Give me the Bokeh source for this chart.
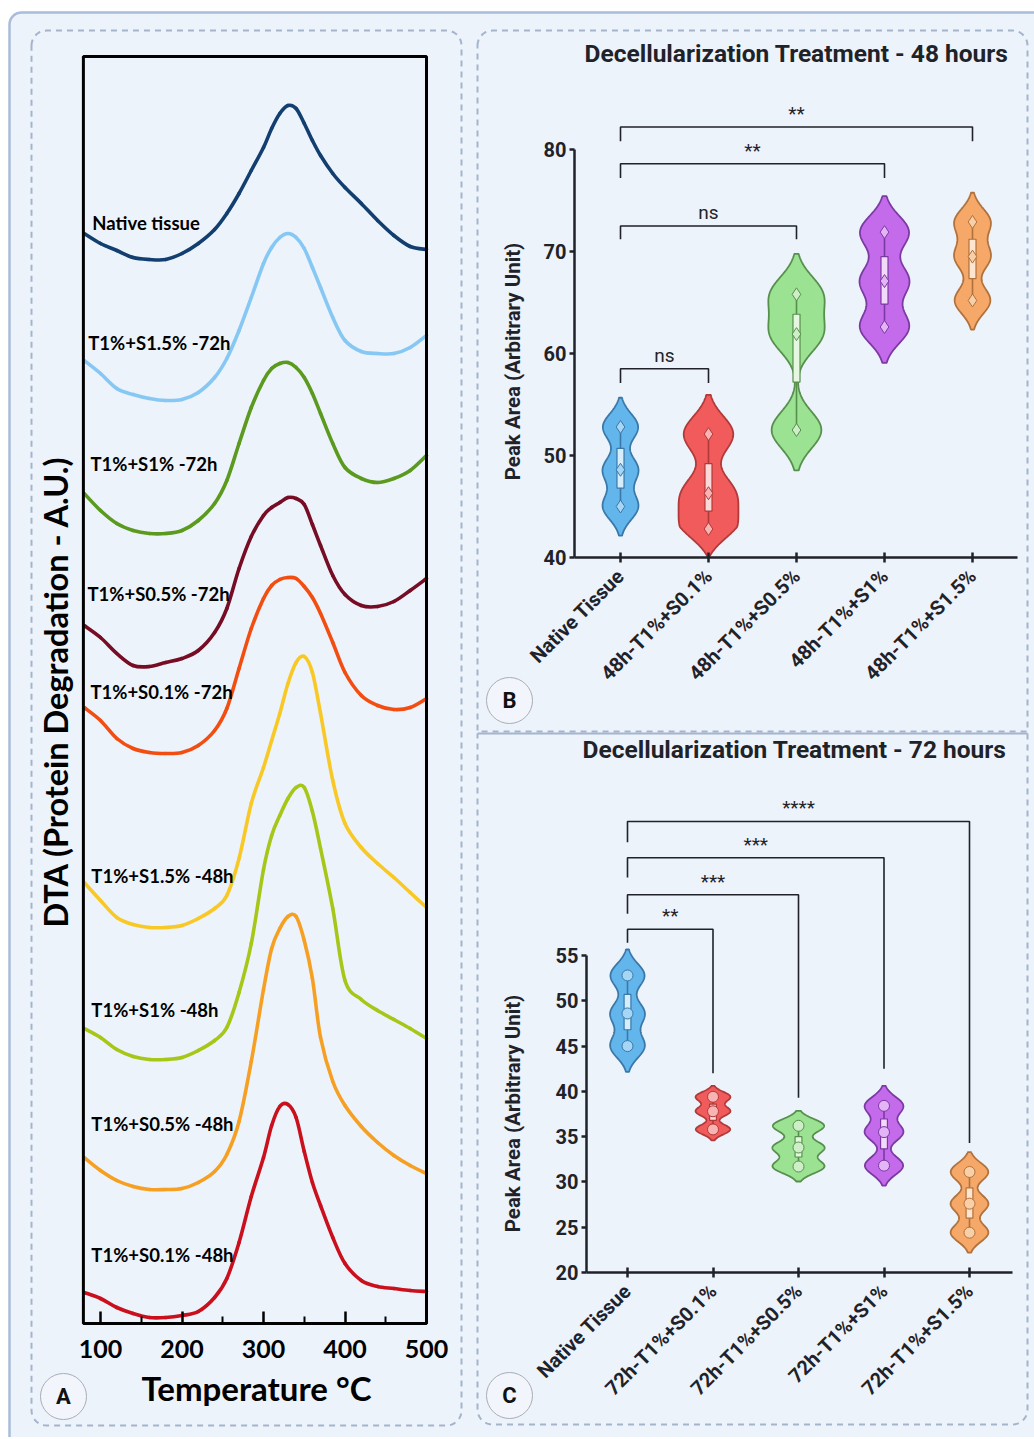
import numpy as np
from bokeh.plotting import figure
from bokeh.models import Range1d, FixedTicker, LinearAxis
from bokeh.embed import file_html
from bokeh.resources import INLINE
from bokeh.core.properties import value

BG = "#edf3fb"
INK = "#1f2329"
W, H = 1034, 1437

# ---------------- Panel A : DTA curves (arbitrary units, stacked) ----------------
temp_c = [80, 100, 120, 140, 160, 180, 200, 220, 240, 255, 270, 285, 300, 310,
          320, 330, 340, 350, 360, 370, 385, 400, 420, 440, 460, 480, 500]

dta_native = [109.0, 108.0, 107.3, 106.6, 106.4, 106.4, 107.0, 108.0, 109.4, 111.0, 113.0, 115.3, 117.6, 119.5,
              121.0, 121.8, 121.5, 120.0, 118.3, 116.8, 115.0, 113.6, 112.0, 110.3, 108.8, 107.7, 107.4]
dta_s15_72 = [96.3, 95.0, 93.5, 92.9, 92.5, 92.3, 92.4, 93.1, 94.6, 96.5, 99.3, 102.6, 106.0, 107.6,
              108.6, 109.0, 108.6, 107.5, 105.6, 103.6, 100.6, 98.3, 97.2, 97.0, 97.0, 97.6, 98.8]
dta_s1_72 = [83.0, 81.3, 80.0, 79.3, 79.0, 79.0, 79.3, 80.3, 82.0, 84.3, 88.0, 91.6, 94.3, 95.5,
             96.0, 96.1, 95.6, 94.6, 93.0, 91.0, 88.0, 85.6, 84.5, 84.1, 84.5, 85.3, 86.8]
dta_s05_72 = [69.8, 68.6, 67.0, 65.8, 65.7, 66.1, 66.5, 67.3, 69.1, 71.5, 75.5, 78.7, 80.8, 81.6,
              82.1, 82.6, 82.5, 81.9, 79.9, 77.8, 74.8, 72.9, 71.8, 71.7, 72.2, 73.3, 74.5]
dta_s01_72 = [61.6, 60.3, 58.5, 57.5, 57.1, 57.0, 57.1, 57.8, 59.3, 61.5, 65.5, 69.5, 72.5, 73.8,
              74.4, 74.6, 74.5, 73.7, 72.6, 71.0, 68.1, 65.1, 62.8, 61.8, 61.4, 61.6, 62.5]
dta_s15_48 = [44.1, 42.3, 40.6, 39.9, 39.6, 39.6, 39.8, 40.5, 41.5, 42.8, 46.5, 52.0, 55.6, 58.3,
              61.0, 64.0, 66.1, 66.7, 65.1, 61.0, 54.3, 50.0, 47.6, 46.0, 44.6, 43.1, 41.6]
dta_s1_48 = [29.5, 28.6, 27.4, 26.7, 26.4, 26.4, 26.6, 27.3, 28.3, 29.6, 33.1, 38.0, 45.4, 48.8,
             50.8, 52.5, 53.6, 53.6, 51.2, 47.5, 41.5, 34.3, 32.4, 31.3, 30.4, 29.5, 28.5]
dta_s05_48 = [16.6, 15.3, 14.3, 13.7, 13.4, 13.4, 13.5, 14.1, 15.2, 16.9, 20.2, 26.2, 33.4, 37.5,
              39.5, 40.7, 40.7, 38.3, 34.5, 28.6, 24.2, 21.8, 19.7, 18.1, 16.8, 15.8, 15.0]
dta_s01_48 = [3.1, 2.5, 1.6, 1.0, 0.6, 0.6, 0.8, 1.2, 2.6, 4.5, 8.1, 12.7, 16.6, 19.8,
              21.7, 21.9, 20.6, 17.2, 14.1, 11.8, 8.6, 6.0, 4.3, 3.7, 3.5, 3.3, 3.2]

dta_curves = [dta_native, dta_s15_72, dta_s1_72, dta_s05_72, dta_s01_72,
              dta_s15_48, dta_s1_48, dta_s05_48, dta_s01_48]
dta_names = ["Native tissue", "T1%+S1.5% -72h", "T1%+S1% -72h", "T1%+S0.5% -72h", "T1%+S0.1% -72h",
             "T1%+S1.5% -48h", "T1%+S1% -48h", "T1%+S0.5% -48h", "T1%+S0.1% -48h"]
dta_colors = ["#123f70", "#86c8f3", "#5b9a1f", "#760d25", "#f24e12",
              "#f8c926", "#a6c618", "#f6a023", "#c9101c"]
dta_label_x = [90, 85, 87.6, 84, 87.6, 88.8, 88.8, 88.8, 88.8]
dta_label_y = [110.1, 98.1, 86.0, 73.0, 63.2, 44.8, 31.4, 20.0, 6.9]
temp_ticks = [100, 200, 300, 400, 500]
temp_minor = [150, 250, 350, 450]
temp_span = (79, 500)
dta_span = (0, 126.7)

# ---------------- Panels B / C : peak areas ----------------
groups_48 = ["Native Tissue", "48h-T1%+S0.1%", "48h-T1%+S0.5%", "48h-T1%+S1%", "48h-T1%+S1.5%"]
native_48 = [52.8, 48.6, 45.0]
s01_48 = [52.1, 46.3, 42.8]
s05_48 = [65.8, 61.9, 52.5]
s1_48 = [71.9, 67.1, 62.6]
s15_48 = [72.9, 69.5, 65.2]
values_48 = [native_48, s01_48, s05_48, s1_48, s15_48]

groups_72 = ["Native Tissue", "72h-T1%+S0.1%", "72h-T1%+S0.5%", "72h-T1%+S1%", "72h-T1%+S1.5%"]
native_72 = [52.8, 48.6, 45.0]
s01_72 = [39.4, 37.8, 35.8]
s05_72 = [36.2, 33.8, 31.7]
s1_72 = [38.4, 35.5, 31.8]
s15_72 = [31.1, 27.6, 24.4]
values_72 = [native_72, s01_72, s05_72, s1_72, s15_72]

# significance brackets: (from, to, label, bar level, left leg end, right leg end)
sig_48 = [(0, 1, "ns", 58.5, 57.1, 57.1), (0, 2, "ns", 72.5, 71.2, 71.2),
          (0, 3, "**", 78.6, 77.2, 77.2), (0, 4, "**", 82.2, 80.8, 80.8)]
sig_72 = [(0, 1, "**", 57.9, 56.4, 42.0), (0, 2, "***", 61.7, 59.6, 39.3),
          (0, 3, "***", 65.8, 63.6, 42.5), (0, 4, "****", 69.8, 67.5, 34.3)]

ticks_48 = [40, 50, 60, 70, 80]
ticks_72 = [20, 25, 30, 35, 40, 45, 50, 55]

# styles
v_fill = ["#62b6ec", "#f25b5b", "#9be293", "#c46bec", "#f5a868"]
v_edge = ["#3b78a8", "#b03a3a", "#57904d", "#7b3aa2", "#b0713c"]
v_point = ["#a6d6f5", "#f8b3b3", "#cdeec6", "#e4b5f6", "#f9cfa8"]
v_box = ["#d6edfb", "#fcd9d9", "#e5f7e1", "#f2dafb", "#fde5cf"]
bw_48 = [1.3, 1.75, 1.8, 1.6, 1.3]
hw_48 = [0.205, 0.34, 0.32, 0.284, 0.21]
bw_72 = [1.3, 0.55, 0.75, 1.0, 1.0]
hw_72 = [0.204, 0.204, 0.306, 0.227, 0.221]


# ---------------- helpers ----------------
def span_range(v_a, p_a, v_b, p_b, p_start, p_end):
    k = (v_b - v_a) / (p_b - p_a)
    return Range1d(v_a + (p_start - p_a) * k, v_a + (p_end - p_a) * k)


def rounded_path(x0, y0, x1, y1, r_tl, r_tr, r_br, r_bl, closed=True, n=10):
    def arc(cx, cy, r, a0, a1):
        t = np.linspace(a0, a1, n)
        return list(cx + r * np.cos(t)), list(cy + r * np.sin(t))
    xs, ys = [], []
    for (cx, cy, r, a0, a1) in [(x0 + r_tl, y0 + r_tl, r_tl, np.pi, 1.5 * np.pi),
                                (x1 - r_tr, y0 + r_tr, r_tr, 1.5 * np.pi, 2 * np.pi),
                                (x1 - r_br, y1 - r_br, r_br, 0, 0.5 * np.pi),
                                (x0 + r_bl, y1 - r_bl, r_bl, 0.5 * np.pi, np.pi)]:
        ax, ay = arc(cx, cy, r, a0, a1)
        xs += ax
        ys += ay
    if closed:
        xs.append(xs[0])
        ys.append(ys[0])
    return xs, ys


def smooth_segments(xs, ys):
    """Cubic Bezier control points (Catmull-Rom) so the curve passes through every read point."""
    x = np.asarray(xs, float)
    y = np.asarray(ys, float)
    xp = np.concatenate([[x[0]], x, [x[-1]]])
    yp = np.concatenate([[y[0]], y, [y[-1]]])
    n = len(x) - 1
    seg = dict(x0=x[:-1], y0=y[:-1], x1=x[1:], y1=y[1:],
               cx0=x[:-1] + (xp[2:n + 2] - xp[0:n]) / 6.0,
               cy0=y[:-1] + (yp[2:n + 2] - yp[0:n]) / 6.0,
               cx1=x[1:] - (xp[3:n + 3] - xp[1:n + 1]) / 6.0,
               cy1=y[1:] - (yp[3:n + 3] - yp[1:n + 1]) / 6.0)
    return seg


def violin_outline(vals, bw, half_w, center, floor):
    v = np.asarray(vals, float)
    lo = v.min() - 2.2 * bw
    ys = np.linspace(max(lo, floor), v.max() + 2.2 * bw, 200)
    dens = np.exp(-0.5 * ((ys[:, None] - v[None, :]) / bw) ** 2).sum(axis=1)
    if lo < floor:  # violin meets the axis: close it to a point there
        dens = dens * np.clip((ys - floor) / 3.0, 0, 1) ** 0.6
    dens = dens / dens.max() * half_w
    xs = np.concatenate([center + dens, (center - dens)[::-1]])
    yy = np.concatenate([ys, ys[::-1]])
    return xs, yy


# ---------------- one canvas for the whole composite ----------------
p = figure(width=W, height=H, x_range=Range1d(0, W), y_range=Range1d(H, 0),
           x_axis_type=None, y_axis_type=None, min_border=0,
           output_backend="svg", toolbar_location=None,
           background_fill_color="white", border_fill_color="white", outline_line_color=None)
p.grid.visible = False

p.extra_x_ranges = {
    "tA": span_range(100, 100, 500, 426, 0, W),
    "cB": span_range(0, 620, 4, 972, 0, W),
    "cC": span_range(0, 627, 4, 969, 0, W),
}
p.extra_y_ranges = {
    "aA": span_range(0, 1323, 126.7, 56, H, 0),
    "vB": span_range(40, 557, 80, 149, H, 0),
    "vC": span_range(20, 1272, 55, 955, H, 0),
}

# outer card and dashed panels
ox, oy = rounded_path(9, 12, W + 20, H + 20, 12, 0, 0, 0)
p.patch(ox, oy, fill_color=BG, line_color="#a9bcd9", line_width=2.5)
DASH = dict(line_color="#a4b4cd", line_width=2, line_dash="6 5")
ax_, ay_ = rounded_path(31, 30, 461, 1425, 15, 15, 15, 15)
p.line(ax_, ay_, **DASH)
bx_, by_ = rounded_path(477, 30, 1027, 731, 15, 15, 0, 0)
p.line(bx_, by_, **DASH)
cx_, cy_ = rounded_path(477, 733, 1027, 1424, 0, 0, 15, 15, closed=False)
cx_, cy_ = cx_[1:], cy_[1:]
p.line([1027] + cx_ + [477], [733] + cy_ + [733], **DASH)

# panel letters
p.scatter([63, 509, 509], [1396, 700, 1395], marker="circle", size=46,
          fill_color="#f2f6fc", line_color="#a9adb5", line_width=1)
p.text(x=[63, 509, 509], y=[1396, 700, 1395], text=["A", "B", "C"], text_font=value("Roboto"),
       text_font_style="bold", text_font_size="22px", text_color="#111111",
       text_align="center", text_baseline="middle")

# ---------------- panel A ----------------
A = dict(x_range_name="tA", y_range_name="aA")
for ys, col in zip(dta_curves, dta_colors):
    seg = smooth_segments(temp_c, ys)
    p.bezier(line_color=col, line_width=3.6, line_cap="round", **seg, **A)
p.quad(left=[temp_span[0]], right=[temp_span[1]], bottom=[dta_span[0]], top=[dta_span[1]],
       fill_color=None, line_color="black", line_width=3, **A)
p.text(x=dta_label_x, y=dta_label_y, text=dta_names, text_font=value("Lato"),
       text_font_style="bold", text_font_size="18.5px", text_color="black",
       text_align="left", text_baseline="middle", **A)

axA = LinearAxis(fixed_location=dta_span[0], ticker=FixedTicker(ticks=temp_ticks, minor_ticks=temp_minor), **A)
axA.axis_line_color = None
axA.major_tick_in = 12
axA.major_tick_out = 0
axA.minor_tick_in = 7
axA.minor_tick_out = 0
axA.major_tick_line_width = 2.5
axA.minor_tick_line_width = 2
axA.major_tick_line_color = "black"
axA.minor_tick_line_color = "black"
axA.major_label_text_font = "Lato"
axA.major_label_text_font_style = "bold"
axA.major_label_text_font_size = "25px"
axA.major_label_text_color = "black"
axA.major_label_standoff = 16
p.add_layout(axA, "below")

p.text(x=[256], y=[1387], text=["Temperature °C"], text_font=value("Lato"), text_font_style="bold",
       text_font_size="33px", text_color="black", text_align="center", text_baseline="middle")
p.text(x=[55], y=[691], text=["DTA (Protein Degradation - A.U.)"], angle=np.pi / 2,
       text_font=value("Lato"), text_font_style="bold", text_font_size="32.5px", text_color="black",
       text_align="center", text_baseline="middle")


# ---------------- panels B and C ----------------
def violin_panel(xr_name, yr_name, xlim, cats, values, bws, hws, ticks, sig, marker,
                 title, title_xy, ylab_xy):
    R = dict(x_range_name=xr_name, y_range_name=yr_name)
    for i, vals in enumerate(values):
        xs, yy = violin_outline(vals, bws[i], hws[i], i, ticks[0])
        p.patch(xs, yy, fill_color=v_fill[i], line_color=v_edge[i], line_width=1.8, **R)
        p.segment(x0=[i], y0=[min(vals)], x1=[i], y1=[max(vals)], line_color=v_edge[i],
                  line_width=1.6, **R)
        q1, q3 = np.percentile(vals, [25, 75])
        p.quad(left=[i - 0.04], right=[i + 0.04], bottom=[q1], top=[q3],
               fill_color=v_box[i], line_color=v_edge[i], line_width=1.2, **R)
        p.scatter([i] * len(vals), vals, marker=marker, size=13 if marker == "diamond" else 11,
                  fill_color=v_point[i], line_color=v_edge[i], line_width=1, **R)

    for a, b, lab, bar, l_end, r_end in sig:
        p.multi_line(xs=[[a, a, b, b]], ys=[[l_end, bar, bar, r_end]], line_color=INK,
                     line_width=1.6, **R)
        p.text(x=[(a + b) / 2], y=[bar], text=[lab], text_font=value("Roboto"),
               text_font_size="19px", text_color=INK, text_align="center",
               text_baseline="bottom", y_offset=-2, **R)

    ya = LinearAxis(fixed_location=xlim[0], ticker=FixedTicker(ticks=ticks),
                    bounds=(ticks[0], ticks[-1]), **R)
    ya.axis_line_width = 2.5
    ya.axis_line_color = INK
    ya.major_tick_in = 0
    ya.major_tick_out = 5
    ya.major_tick_line_width = 2.5
    ya.major_tick_line_color = INK
    ya.minor_tick_line_color = None
    ya.major_label_text_font = "Roboto"
    ya.major_label_text_font_style = "bold"
    ya.major_label_text_font_size = "20px"
    ya.major_label_text_color = INK
    ya.major_label_standoff = 3
    p.add_layout(ya, "left")

    xa = LinearAxis(fixed_location=ticks[0], ticker=FixedTicker(ticks=list(range(len(cats)))),
                    bounds=xlim, **R)
    xa.major_label_overrides = {i: c for i, c in enumerate(cats)}
    xa.major_label_orientation = np.pi / 4
    xa.axis_line_width = 2.5
    xa.axis_line_color = INK
    xa.major_tick_in = 5
    xa.major_tick_out = 5
    xa.major_tick_line_width = 2.5
    xa.major_tick_line_color = INK
    xa.minor_tick_line_color = None
    xa.major_label_text_font = "Roboto"
    xa.major_label_text_font_style = "bold"
    xa.major_label_text_font_size = "20px"
    xa.major_label_text_color = INK
    xa.major_label_standoff = 10
    p.add_layout(xa, "below")

    p.text(x=[title_xy[0]], y=[title_xy[1]], text=[title], text_font=value("Roboto"),
           text_font_style="bold", text_font_size="24.5px", text_color=INK,
           text_align="right", text_baseline="middle")
    p.text(x=[ylab_xy[0]], y=[ylab_xy[1]], text=["Peak Area (Arbitrary Unit)"], angle=np.pi / 2,
           text_font=value("Roboto"), text_font_style="bold", text_font_size="20.5px",
           text_color=INK, text_align="center", text_baseline="middle")


violin_panel("cB", "vB", (-0.523, 4.511), groups_48, values_48, bw_48, hw_48, ticks_48, sig_48,
             "diamond", "Decellularization Treatment - 48 hours", (1008, 53), (512, 361))
violin_panel("cC", "vC", (-0.48, 4.50), groups_72, values_72, bw_72, hw_72, ticks_72, sig_72,
             "circle", "Decellularization Treatment - 72 hours", (1006, 749), (512, 1113))

open("out.html", "w").write(file_html(p, INLINE))
